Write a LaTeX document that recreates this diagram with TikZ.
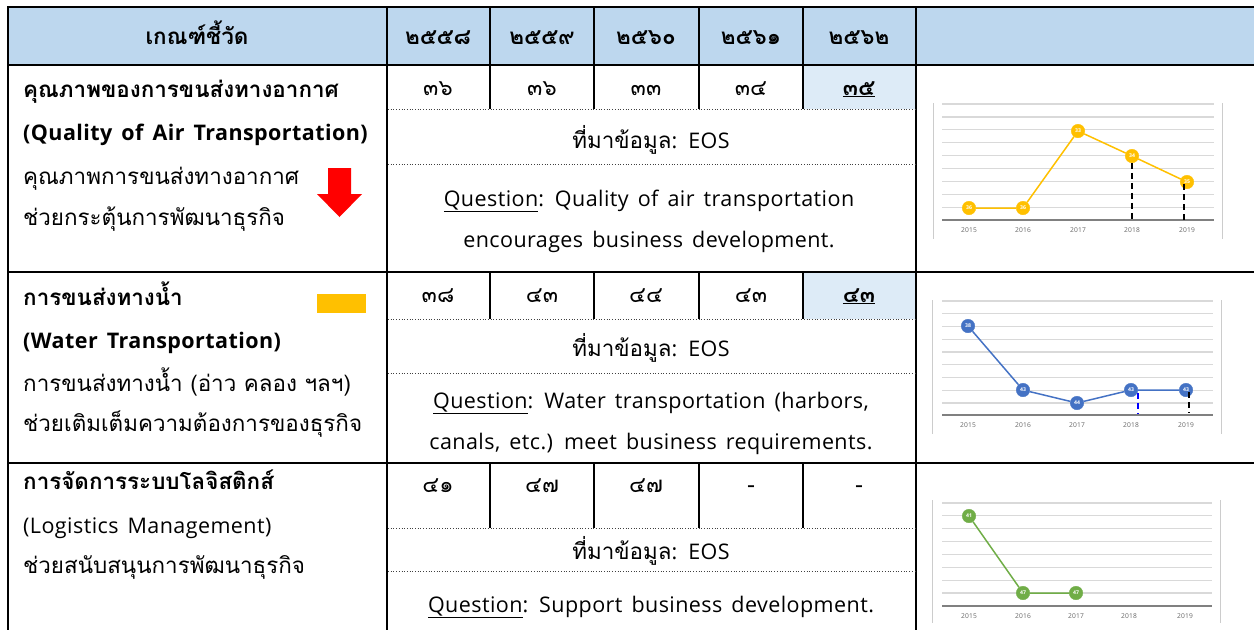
\documentclass[tikz,border=0pt]{standalone}
\usepackage{fontspec}
\setmainfont{Open Sans}[Scale=1.075,LetterSpace=2,WordSpace=1.5]
\newfontfamily\thaifont[Script=Thai,Scale=1.12]{Loma}
\usepackage{tikz}
\usetikzlibrary{arrows.meta,positioning}
\definecolor{headblue}{HTML}{BDD7EE}
\definecolor{pickblue}{HTML}{DDEBF7}
\definecolor{airyel}{HTML}{FFC000}
\definecolor{watblue}{HTML}{4472C4}
\definecolor{loggreen}{HTML}{70AD47}
\definecolor{gridgray}{HTML}{D9D9D9}

\begin{document}
\begin{tikzpicture}[x=1pt,y=-1pt,
  cell/.style={anchor=base,inner sep=0pt,font=\fontsize{20}{24}\selectfont},
  tcell/.style={cell,font=\fontsize{20}{24}\thaifont},
  lbl/.style={anchor=base west,inner sep=0pt,font=\fontsize{20}{24}\selectfont},
  tlbl/.style={lbl,font=\fontsize{20}{24}\thaifont},
  hd/.style={anchor=base,inner sep=0pt,font=\fontsize{20}{24}\thaifont\bfseries},
  border/.style={line width=2pt},
  dots/.style={dotted,line width=0.7pt,black!75},
  gline/.style={gridgray,line width=1.2pt},
  baseln/.style={gray,line width=1.5pt},
  chartbox/.style={gray!40,line width=0.8pt},
  yr/.style={inner sep=0pt,font=\fontsize{6.2}{7}\selectfont,text=black!60},
  bead/.style={circle,fill=#1,draw=#1,minimum size=13.5pt,inner sep=0pt,
               text=white,font=\fontsize{4.8}{6}\selectfont\bfseries},
  trend/.style={#1,line width=1.5pt},
  guide/.style={dash pattern=on 6pt off 4pt,line width=1.8pt}]
  \useasboundingbox (0,0) rectangle (1254,630);

  % table grid
  \fill[headblue] (8,7) rectangle (1254,65);
  \fill[pickblue] (803,65) rectangle (916,109);
  \fill[pickblue] (803,272) rectangle (916,319);
  \draw[border] (1254,7) -- (8,7) -- (8,630);
  \foreach \y in {65,272,463} \draw[border] (8,\y) -- (1254,\y);
  \draw[border] (387,7) -- (387,630);
  \draw[border] (916,7) -- (916,630);
  \foreach \x in {490,594,699,803} {
    \draw[border] (\x,7) -- (\x,109);
    \draw[border] (\x,272) -- (\x,319);
    \draw[border] (\x,463) -- (\x,528);
  }
  \foreach \y in {109,164,319,373,528,571} \draw[dots] (388,\y) -- (915,\y);

  % header
  \node[hd] (crit) at (197,44) {เกณฑ์ชี้วัด};
  \foreach \x/\t [count=\i] in {438/๒๕๕๘,542/๒๕๕๙,646/๒๕๖๐,751/๒๕๖๑,859/๒๕๖๒}
    \node[hd] (yr\i) at (\x,44) {\t};

  % row 1: air transportation
  \node[tlbl,font=\fontsize{20}{24}\thaifont\bfseries] (air1) at (23,97) {คุณภาพของการขนส่งทางอากาศ};
  \node[lbl,font=\fontsize{20}{24}\selectfont\bfseries] (air2) at (23,140) {(Quality of Air Transportation)};
  \node[tlbl] (air3) at (23,184) {คุณภาพการขนส่งทางอากาศ};
  \node[tlbl] (air4) at (23,225) {ช่วยกระตุ้นการพัฒนาธุรกิจ};
  \fill[red] (328,168) -- (351,168) -- (351,194) -- (362,194) -- (339.5,217)
    -- (317,194) -- (328,194) -- cycle;
  \foreach \x/\t [count=\i] in {438/๓๖,542/๓๖,646/๓๓,751/๓๔}
    \node[tcell] (airv\i) at (\x,95) {\t};
  \node[hd] (airv5) at (859,95) {\underline{๓๕}};
  \node[cell] (airsrc) at (651,148) {{\thaifont ที่มาข้อมูล}: EOS};
  \node[cell] (airq1) at (649,206) {\underline{Question}: Quality of air transportation};
  \node[cell] (airq2) at (649,247) {encourages business development.};

  % row 2: water transportation
  \node[tlbl,font=\fontsize{20}{24}\thaifont\bfseries] (wat1) at (23,305) {การขนส่งทางน้ำ};
  \node[lbl,font=\fontsize{20}{24}\selectfont\bfseries] (wat2) at (23,348) {(Water Transportation)};
  \node[tlbl] (wat3) at (23,391) {การขนส่งทางน้ำ (อ่าว คลอง ฯลฯ)};
  \node[tlbl] (wat4) at (23,431) {ช่วยเติมเต็มความต้องการของธุรกิจ};
  \fill[airyel] (317,294) rectangle (366,313);
  \foreach \x/\t [count=\i] in {438/๓๘,542/๔๓,646/๔๔,751/๔๓}
    \node[tcell] (watv\i) at (\x,302) {\t};
  \node[hd] (watv5) at (859,302) {\underline{๔๓}};
  \node[cell] (watsrc) at (651,356) {{\thaifont ที่มาข้อมูล}: EOS};
  \node[cell] (watq1) at (651,408) {\underline{Question}: Water transportation (harbors,};
  \node[cell] (watq2) at (651,449) {canals, etc.) meet business requirements.};

  % row 3: logistics
  \node[tlbl,font=\fontsize{20}{24}\thaifont\bfseries] (log1) at (23,489) {การจัดการระบบโลจิสติกส์};
  \node[lbl] (log2) at (23,533) {(Logistics Management)};
  \node[tlbl] (log3) at (23,573) {ช่วยสนับสนุนการพัฒนาธุรกิจ};
  \foreach \x/\t [count=\i] in {438/๔๑,542/๔๗,646/๔๗,751/-,859/-}
    \node[tcell] (logv\i) at (\x,492) {\t};
  \node[cell] (logsrc) at (651,559) {{\thaifont ที่มาข้อมูล}: EOS};
  \node[cell] (logq1) at (651,612) {\underline{Question}: Support business development.};

  % chart 1
  \draw[chartbox] (933,103) -- (933,239);
  \draw[chartbox] (1222,103) -- (1222,239);
  \foreach \g in {0,...,8} \draw[gline] (942,{104+12.9*\g}) -- (1214,{104+12.9*\g});
  \draw[baseln] (942,220) -- (1214,220);
  \foreach \x/\t in {969/2015,1023/2016,1078/2017,1132/2018,1187/2019}
    \node[yr] (ca\t) at (\x,230) {\t};
  \node[bead=airyel] (a1) at (969,208) {36};
  \node[bead=airyel] (a2) at (1023,208) {36};
  \node[bead=airyel] (a3) at (1078,131) {33};
  \node[bead=airyel] (a4) at (1132,156) {34};
  \node[bead=airyel] (a5) at (1187,182) {35};
  \draw[trend=airyel] (a1) -- (a2) -- (a3) -- (a4) -- (a5);
  \coordinate (a4b) at (1132,220);
  \coordinate (a5t) at (1184,184);
  \coordinate (a5b) at (1184,220);
  \draw[guide] (a4.south) -- (a4b);
  \draw[guide] (a5t) -- (a5b);

  % chart 2
  \draw[chartbox] (932,300) -- (932,434);
  \draw[chartbox] (1221,300) -- (1221,434);
  \foreach \g in {0,...,8} \draw[gline] (942,{301+12.75*\g}) -- (1213,{301+12.75*\g});
  \draw[baseln] (942,415) -- (1213,415);
  \foreach \x/\t in {968/2015,1023/2016,1077/2017,1131/2018,1186/2019}
    \node[yr] (cb\t) at (\x,425) {\t};
  \node[bead=watblue] (b1) at (968,326) {38};
  \node[bead=watblue] (b2) at (1023,390) {43};
  \node[bead=watblue] (b3) at (1077,403) {44};
  \node[bead=watblue] (b4) at (1131,390) {43};
  \node[bead=watblue] (b5) at (1186,390) {43};
  \draw[trend=watblue] (b1) -- (b2) -- (b3) -- (b4) -- (b5);
  \coordinate (b4t) at (1138,393);
  \coordinate (b4b) at (1138,414);
  \coordinate (b5t) at (1189,392);
  \coordinate (b5b) at (1189,413);
  \draw[guide,blue] (b4t) -- (b4b);
  \draw[guide] (b5t) -- (b5b);

  % chart 3
  \draw[chartbox] (932,500) -- (932,623);
  \draw[chartbox] (1220,500) -- (1220,623);
  \foreach \g in {0,...,7} \draw[gline] (942,{503+12.85*\g}) -- (1212,{503+12.85*\g});
  \draw[baseln] (942,606) -- (1212,606);
  \foreach \x/\t in {969/2015,1023/2016,1076/2017,1129/2018,1185/2019}
    \node[yr] (cc\t) at (\x,616) {\t};
  \node[bead=loggreen] (c1) at (969,516) {41};
  \node[bead=loggreen] (c2) at (1023,593) {47};
  \node[bead=loggreen] (c3) at (1076,593) {47};
  \draw[trend=loggreen] (c1) -- (c2) -- (c3);
\end{tikzpicture}
\end{document}
